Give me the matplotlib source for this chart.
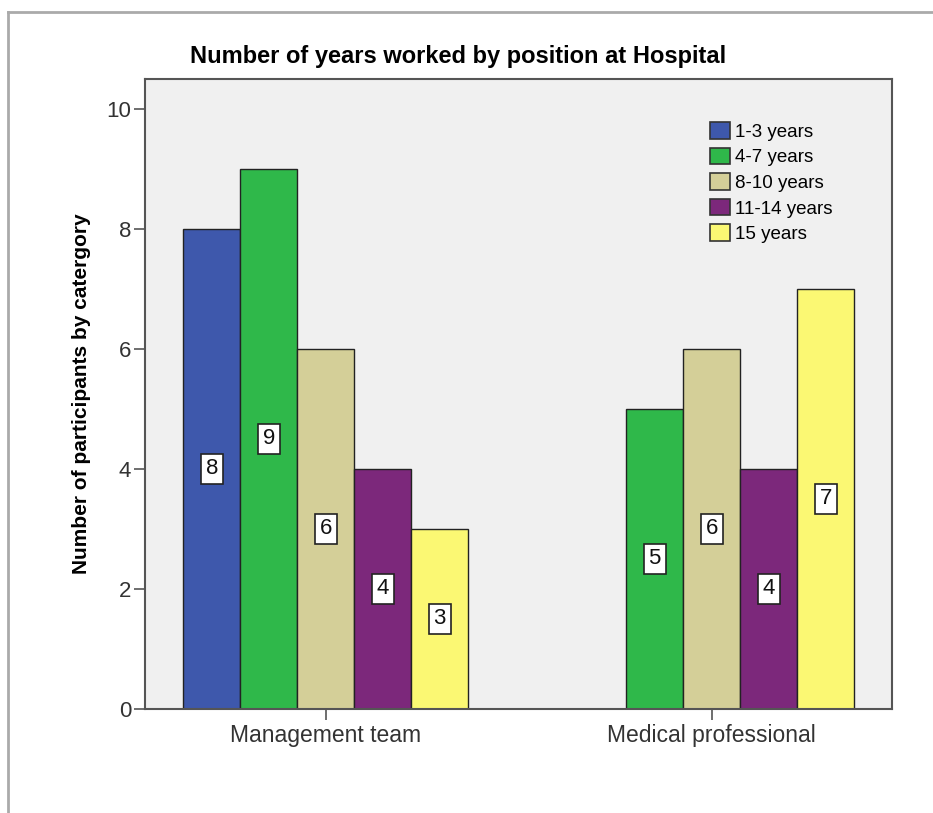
import numpy as np
import matplotlib.pyplot as plt
from matplotlib.lines import Line2D
from matplotlib.patches import Patch

plt.rcParams['font.family'] = ['Liberation Sans', 'DejaVu Sans']

# data
positions = ["Management team", "Medical professional"]
groups = ["1-3 years", "4-7 years", "8-10 years", "11-14 years", "15 years"]
colors = ["#3E58AC", "#2FB84A", "#D4CF98", "#7C287B", "#FBF873"]
counts = {
    "1-3 years": [8, 0],
    "4-7 years": [9, 5],
    "8-10 years": [6, 6],
    "11-14 years": [4, 4],
    "15 years": [3, 7],
}

fig = plt.figure(figsize=(9.33, 8.13), dpi=100)
ax = fig.add_axes([145 / 933, 1 - 709 / 813, (891.7 - 145) / 933, (709 - 79) / 813])
ax.set_facecolor("#F0F0F0")

x = np.arange(len(positions))
w = 57 / 386
for i, g in enumerate(groups):
    off = (i - 2) * w
    for j, v in enumerate(counts[g]):
        if v == 0:
            continue
        ax.bar(x[j] + off, v, width=w, color=colors[i], edgecolor="#222222",
               linewidth=1.0, zorder=2)
        ax.text(x[j] + off, v / 2, str(v), ha="center", va="center",
                fontsize=16, color="#111111", zorder=3,
                bbox=dict(boxstyle="square,pad=0.22", fc="white",
                          ec="#222222", lw=1.2))

ax.set_xlim((145 - 325.7) / 386, (891.7 - 325.7) / 386)
ax.set_ylim(0, (709 - 79) / 60)
ax.set_yticks([0, 2, 4, 6, 8, 10])
ax.set_xticks(x)
ax.set_xticklabels(positions)
ax.tick_params(axis="both", labelsize=16, colors="#555555", labelcolor="#333333",
               length=8, width=1.2, pad=2)
ax.tick_params(axis="x", labelsize=16.5, pad=3)
for s in ax.spines.values():
    s.set_color("#555555")
    s.set_linewidth(1.5)

ax.set_ylabel("Number of participants by catergory", fontsize=15, fontweight="bold",
              labelpad=11)
fig.text(458 / 933, 1 - 56 / 813, "Number of years worked by position at Hospital",
         ha="center", va="center", fontsize=17, fontweight="bold")

handles = [Patch(facecolor=c, edgecolor="#333333", linewidth=1.2) for c in colors]
ax.legend(handles, groups, loc="upper left",
          bbox_to_anchor=(710 / 933, 1 - 122 / 813), bbox_transform=fig.transFigure,
          frameon=False, fontsize=13.5, handlelength=1.05, handleheight=1.0,
          labelspacing=0.36, handletextpad=0.3, borderpad=0, borderaxespad=0)

# outer frame (top and left edges only)
fig.add_artist(Line2D([8 / 933, 8 / 933], [0, 1 - 12 / 813], transform=fig.transFigure,
                      color="#AAAAAA", lw=2))
fig.add_artist(Line2D([8 / 933, 1], [1 - 12 / 813, 1 - 12 / 813], transform=fig.transFigure,
                      color="#AAAAAA", lw=2))

fig.savefig("out.png", dpi=100)
